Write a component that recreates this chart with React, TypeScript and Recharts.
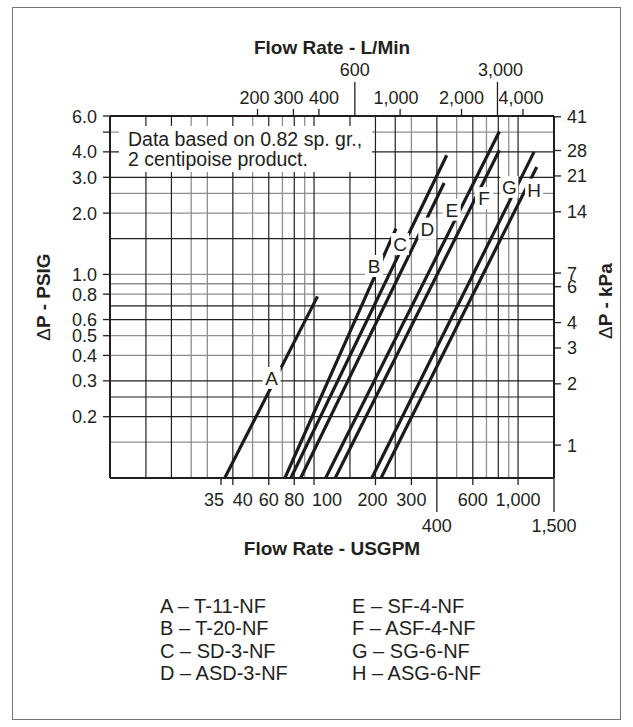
import React from "react";
import { LineChart, Line, XAxis, YAxis, ReferenceLine, ReferenceDot } from "recharts";

const FONT = '"Liberation Sans", Arial, Helvetica, sans-serif';
const INK = "#231f20";
const GRAY = "#8f8f8f";

// flow (USGPM) vs pressure drop (PSIG)
const seriesA = [{ q: 36.5, p: 0.1 }, { q: 104, p: 0.78 }];
const seriesB = [{ q: 72, p: 0.1 }, { q: 252, p: 1.68 }];
const seriesC = [{ q: 77, p: 0.1 }, { q: 447, p: 3.85 }];
const seriesD = [{ q: 86, p: 0.1 }, { q: 434, p: 2.81 }];
const seriesE = [{ q: 114, p: 0.1 }, { q: 810, p: 5.04 }];
const seriesF = [{ q: 127, p: 0.1 }, { q: 810, p: 4.07 }];
const seriesG = [{ q: 192, p: 0.1 }, { q: 1198, p: 4.0 }];
const seriesH = [{ q: 213, p: 0.1 }, { q: 1235, p: 3.37 }];
// first group is drawn against the USGPM axis, second against the L/Min axis (same positions)
const seriesOnGpm = [seriesA, seriesB, seriesC, seriesD];
const seriesOnLpm = [seriesE, seriesF, seriesG, seriesH];

const lineTags = [
  { id: "A", q: 62, p: 0.31 },
  { id: "B", q: 197, p: 1.1 },
  { id: "C", q: 264, p: 1.41 },
  { id: "D", q: 359, p: 1.68 },
  { id: "E", q: 473, p: 2.08 },
  { id: "F", q: 681, p: 2.37 },
  { id: "G", q: 906, p: 2.69 },
  { id: "H", q: 1198, p: 2.61 },
];

const legendLeft = ["A – T-11-NF", "B – T-20-NF", "C – SD-3-NF", "D – ASD-3-NF"];
const legendRight = ["E – SF-4-NF", "F – ASF-4-NF", "G – SG-6-NF", "H – ASG-6-NF"];

const usgpmTicks = [35, 40, 60, 80, 100, 200, 300, 400, 600, 1000, 1500];
const usgpmLongTicks = [400, 1500];
const lpmTicks = [200, 300, 400, 600, 1000, 2000, 3000, 4000];
const lpmLongTicks = [600, 3000];
const psiTicks = [0.2, 0.3, 0.4, 0.5, 0.6, 0.8, 1, 2, 3, 4, 5, 6];
const psiUnlabeled = [5];
const kpaTicks = [1, 2, 3, 4, 6, 7, 14, 21, 28, 41];

const gridFlowDark = [15, 20, 40, 60, 80, 100, 150, 200, 250, 400, 600, 800, 1000];
const gridFlowLight = [25, 30, 50, 70, 90, 300, 500, 700, 900];
const gridPsiDark = [0.2, 0.25, 0.3, 0.6, 0.7, 1.5, 3, 4];
const gridPsiLight = [0.15, 0.4, 0.5, 0.8, 0.9, 1, 2, 2.5, 5];

const GPM_TO_LPM = 3.785411784;
const PSI_TO_KPA = 6.894757;
const flowDomain = [10, 1500];
const psiDomain = [0.1, 6];

const bottomNudge: Record<number, number> = { 35: -7, 40: 10, 100: 13, 200: -3 };
const topNudge: Record<number, number> = { 200: -3, 300: -5, 400: 5, 1000: -4, 3000: 3, 4000: -2 };

const fmtFlow = (v: number) => v.toLocaleString("en-US");
const toLpm = (d: any) => d.q * GPM_TO_LPM;

function BottomTick(props: any) {
  const { x, y, payload } = props;
  const v = payload.value as number;
  const long = usgpmLongTicks.includes(v);
  return (
    <g>
      <line x1={x} x2={x} y1={y} y2={y + (long ? 34 : 7)} stroke={INK} strokeWidth={1.3} />
      <text x={x + (bottomNudge[v] ?? 0)} y={y + (long ? 54 : 28)} textAnchor="middle"
        fontSize={18} fill={INK} fontFamily={FONT}>{fmtFlow(v)}</text>
    </g>
  );
}

function TopTick(props: any) {
  const { x, y, payload } = props;
  const v = payload.value as number;
  const long = lpmLongTicks.includes(v);
  return (
    <g>
      <line x1={x} x2={x} y1={y} y2={y - (long ? 34 : 7)} stroke={INK} strokeWidth={1.3} />
      <text x={x + (topNudge[v] ?? 0)} y={y - (long ? 40 : 12)} textAnchor="middle"
        fontSize={18} fill={INK} fontFamily={FONT}>{fmtFlow(v)}</text>
    </g>
  );
}

function LeftTick(props: any) {
  const { x, y, payload } = props;
  const v = payload.value as number;
  return (
    <g>
      <line x1={x - 7} x2={x} y1={y} y2={y} stroke={INK} strokeWidth={1.3} />
      {!psiUnlabeled.includes(v) && (
        <text x={x - 13} y={y + 6.5} textAnchor="end" fontSize={18} fill={INK} fontFamily={FONT}>
          {v.toFixed(1)}
        </text>
      )}
    </g>
  );
}

function RightTick(props: any) {
  const { x, y, payload } = props;
  const v = payload.value as number;
  return (
    <g>
      <line x1={x} x2={x + 7} y1={y} y2={y} stroke={INK} strokeWidth={1.3} />
      <text x={x + 13} y={y + 6.5} textAnchor="start" fontSize={18} fill={INK} fontFamily={FONT}>
        {v}
      </text>
    </g>
  );
}

function LetterTag({ cx, cy, text }: { cx: number; cy: number; text: string }) {
  return (
    <g>
      <rect x={cx - 9} y={cy - 11} width={18} height={22} fill="#fff" />
      <text x={cx} y={cy + 7} textAnchor="middle" fontSize={19} fill={INK} fontFamily={FONT}>
        {text}
      </text>
    </g>
  );
}

const titleStyle = { fontSize: 19, fontWeight: 700, fill: INK, fontFamily: FONT };

export default function App() {
  return (
    <div style={{ position: "absolute", left: 0, top: 0, width: 633, height: 727, background: "#fff", fontFamily: FONT }}>
      <div style={{ position: "absolute", left: 12, top: 7, width: 609, height: 713, border: "1.5px solid #777", boxSizing: "border-box" }} />
      <div style={{ position: "absolute", left: 0, top: 0 }}>
        <LineChart width={633} height={580} margin={{ top: 0, right: 0, bottom: 0, left: 0 }}>
          <XAxis
            xAxisId="gpm" dataKey="q" type="number" scale="log" domain={flowDomain} allowDataOverflow
            ticks={usgpmTicks} height={102} tickSize={0} tickMargin={0} tickLine={false}
            axisLine={{ stroke: INK, strokeWidth: 2 }} tick={<BottomTick />} interval={0}
            label={{ content: (p: any) => (
              <text x={p.viewBox.x + p.viewBox.width / 2} y={p.viewBox.y + 77} textAnchor="middle" {...titleStyle}>
                Flow Rate - USGPM
              </text>
            ) }}
          />
          <XAxis
            xAxisId="lpm" dataKey={toLpm} orientation="top" type="number" scale="log"
            domain={[flowDomain[0] * GPM_TO_LPM, flowDomain[1] * GPM_TO_LPM]} allowDataOverflow
            ticks={lpmTicks} height={116} tickSize={0} tickMargin={0} tickLine={false}
            axisLine={{ stroke: INK, strokeWidth: 2 }} tick={<TopTick />} interval={0}
            label={{ content: (p: any) => (
              <text x={p.viewBox.x + p.viewBox.width / 2} y={54} textAnchor="middle" {...titleStyle}>
                Flow Rate - L/Min
              </text>
            ) }}
          />
          <YAxis
            yAxisId="psi" type="number" scale="log" domain={psiDomain} allowDataOverflow
            ticks={psiTicks} width={110} tickSize={0} tickMargin={0} tickLine={false}
            axisLine={{ stroke: INK, strokeWidth: 2 }} tick={<LeftTick />} interval={0}
            label={{ content: (p: any) => {
              const cx = 43;
              const cy = p.viewBox.y + p.viewBox.height / 2;
              return (
                <text x={cx} y={cy} transform={`rotate(-90 ${cx} ${cy})`} textAnchor="middle" dy={7} {...titleStyle}>
                  <tspan fontWeight={400}>Δ</tspan>P - PSIG
                </text>
              );
            } }}
          />
          <YAxis
            yAxisId="kpa" orientation="right" type="number" scale="log"
            domain={[psiDomain[0] * PSI_TO_KPA, psiDomain[1] * PSI_TO_KPA]} allowDataOverflow
            ticks={kpaTicks} width={79} tickSize={0} tickMargin={0} tickLine={false}
            axisLine={{ stroke: INK, strokeWidth: 2 }} tick={<RightTick />} interval={0}
            label={{ content: (p: any) => {
              const cx = p.viewBox.x + 51;
              const cy = p.viewBox.y + p.viewBox.height / 2 + 4;
              return (
                <text x={cx} y={cy} transform={`rotate(-90 ${cx} ${cy})`} textAnchor="middle" dy={7} {...titleStyle}>
                  <tspan fontWeight={400}>Δ</tspan>P - kPa
                </text>
              );
            } }}
          />

          {gridFlowLight.map((v) => (
            <ReferenceLine key={`fl${v}`} x={v} xAxisId="gpm" yAxisId="psi" stroke={GRAY} strokeWidth={1.3} zIndex={-10} />
          ))}
          {gridPsiLight.map((v) => (
            <ReferenceLine key={`pl${v}`} y={v} xAxisId="gpm" yAxisId="psi" stroke={GRAY} strokeWidth={1.3} zIndex={-10} />
          ))}
          {gridFlowDark.map((v) => (
            <ReferenceLine key={`fd${v}`} x={v} xAxisId="gpm" yAxisId="psi" stroke={INK} strokeWidth={1.2} zIndex={-5} />
          ))}
          {gridPsiDark.map((v) => (
            <ReferenceLine key={`pd${v}`} y={v} xAxisId="gpm" yAxisId="psi" stroke={INK} strokeWidth={1.2} zIndex={-5} />
          ))}

          {seriesOnGpm.map((d, i) => (
            <Line key={`g${i}`} data={d} dataKey="p" xAxisId="gpm" yAxisId="psi" stroke="#1b1b1b"
              strokeWidth={3.2} dot={false} activeDot={false} isAnimationActive={false} />
          ))}
          {seriesOnLpm.map((d, i) => (
            <Line key={`l${i}`} data={d} dataKey="p" xAxisId="lpm" yAxisId="psi" stroke="#1b1b1b"
              strokeWidth={3.2} dot={false} activeDot={false} isAnimationActive={false} />
          ))}

          {lineTags.map((t) => (
            <ReferenceDot key={t.id} x={t.q} y={t.p} xAxisId="gpm" yAxisId="psi" r={9} zIndex={900}
              shape={(s: any) => <LetterTag cx={s.cx} cy={s.cy} text={t.id} />} />
          ))}
        </LineChart>
      </div>

      <div style={{ position: "absolute", left: 119, top: 126, width: 253, height: 46, background: "#fff",
        fontSize: 19.5, lineHeight: "20px", color: INK, paddingLeft: 9, paddingTop: 3, boxSizing: "border-box" }}>
        Data based on 0.82 sp. gr.,<br />2 centipoise product.
      </div>

      {[legendLeft, legendRight].map((col, ci) => (
        <div key={ci} style={{ position: "absolute", left: ci === 0 ? 160 : 352, top: 595, fontSize: 20,
          lineHeight: "22.3px", color: INK, whiteSpace: "nowrap" }}>
          {col.map((s) => (
            <div key={s}>{s}</div>
          ))}
        </div>
      ))}
    </div>
  );
}
